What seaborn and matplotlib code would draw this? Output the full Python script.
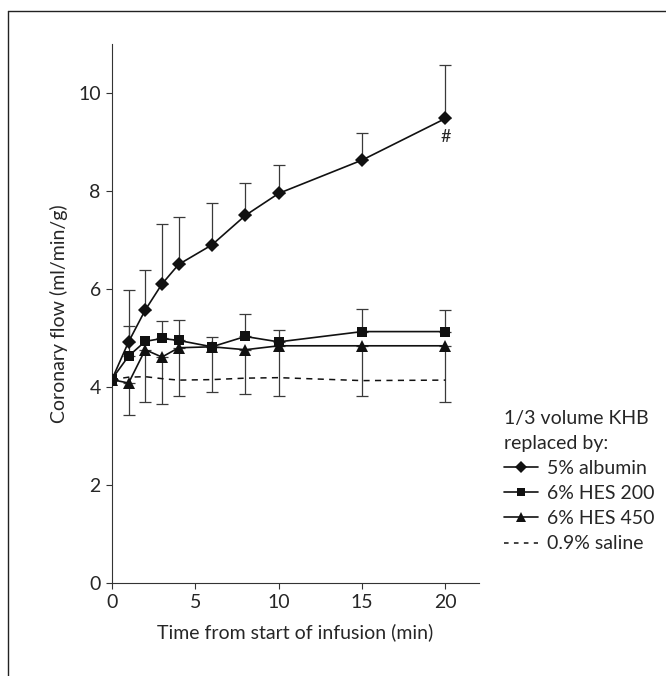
import numpy as np
import pandas as pd
import matplotlib
matplotlib.use("Agg")
import matplotlib.pyplot as plt
import seaborn as sb
from matplotlib.lines import Line2D

sb.set_style("ticks")
plt.rcParams['font.family'] = ['Lato', 'DejaVu Sans']

# values
time = [0, 1, 2, 3, 4, 6, 8, 10, 15, 20]
albumin = [4.15, 4.92, 5.57, 6.10, 6.50, 6.90, 7.50, 7.95, 8.63, 9.48]
albumin_up = [np.nan, 5.97, 6.38, 7.33, 7.46, 7.76, 8.16, 8.52, 9.19, 10.58]
hes200 = [4.16, 4.63, 4.93, 4.99, 4.95, 4.82, 5.03, 4.92, 5.13, 5.13]
hes200_up = [np.nan, 5.25, np.nan, 5.34, 5.37, 5.01, 5.48, 5.17, 5.60, 5.57]
hes450 = [4.15, 4.08, 4.76, 4.61, 4.80, 4.82, 4.76, 4.84, 4.84, 4.84]
hes450_lo = [np.nan, 3.43, 3.69, 3.66, 3.82, 3.89, 3.86, 3.82, 3.82, 3.69]
saline = [4.15, 4.20, 4.21, 4.17, 4.14, 4.15, 4.18, 4.19, 4.13, 4.14]

labels = ['5% albumin', '6% HES 200', '6% HES 450', '0.9% saline']

df = pd.DataFrame({'time': time, labels[0]: albumin, labels[1]: hes200,
                   labels[2]: hes450, labels[3]: saline})

fig = plt.figure(figsize=(6.66, 6.76), dpi=100)
ax = fig.add_axes([0.168, 0.1376, 0.551, 0.7974])

err_col = '#3a3a3a'
fs = 14

def err_bars(y, lim, upper):
    y = np.array(y)
    lim = np.array(lim)
    ok = ~np.isnan(lim)
    t = np.array(time)[ok]
    d = np.abs(lim[ok] - y[ok])
    yerr = [np.zeros_like(d), d] if upper else [d, np.zeros_like(d)]
    ax.errorbar(t, y[ok], yerr=yerr, fmt='none', ecolor=err_col,
                elinewidth=0.9, capsize=4, capthick=0.9, zorder=1)

err_bars(albumin, albumin_up, True)
err_bars(hes200, hes200_up, True)
err_bars(hes450, hes450_lo, False)

sb.lineplot(data=df, x='time', y=labels[0], ax=ax, color='#111111', lw=1.2,
            marker='D', markersize=7, markeredgewidth=0, label=labels[0], zorder=3)
sb.lineplot(data=df, x='time', y=labels[2], ax=ax, color='#111111', lw=1.2,
            marker='^', markersize=8.5, markeredgewidth=0, label=labels[2], zorder=4)
sb.lineplot(data=df, x='time', y=labels[3], ax=ax, color='#111111', lw=1.1,
            dashes=(4, 3.5), label=labels[3], zorder=2)
sb.lineplot(data=df, x='time', y=labels[1], ax=ax, color='#111111', lw=1.2,
            marker='s', markersize=7.5, markeredgewidth=0, label=labels[1], zorder=5)

ax.text(20, 9.1, '#', ha='center', va='center', fontsize=fs - 1)

ax.set_xlim(0, 22)
ax.set_ylim(0, 11)
ax.set_xticks([0, 5, 10, 15, 20])
ax.set_yticks([0, 2, 4, 6, 8, 10])
ax.tick_params(labelsize=fs, length=4, width=0.8, color='#333333', pad=4)
ax.set_xlabel('Time from start of infusion (min)', fontsize=fs, labelpad=9)
ax.set_ylabel('Coronary flow (ml/min/g)', fontsize=fs, labelpad=7)
for s in ['left', 'bottom']:
    ax.spines[s].set_linewidth(0.8)
    ax.spines[s].set_color('#333333')
sb.despine(ax=ax)

h, l = ax.get_legend_handles_labels()
order = [l.index(x) for x in labels]
small = []
for i in order:
    hd = h[i]
    small.append(Line2D([], [], color=hd.get_color(), lw=hd.get_linewidth(),
                        linestyle=hd.get_linestyle(), marker=hd.get_marker(),
                        markersize=hd.get_markersize() * 0.85,
                        markeredgewidth=0))
small[3].set_dashes((3, 3.5))
leg = ax.legend(small, labels,
                title='1/3 volume KHB\nreplaced by:', fontsize=fs,
                title_fontsize=fs, alignment='left', frameon=False,
                loc='upper left', bbox_to_anchor=(0.745, 0.405),
                bbox_transform=fig.transFigure, handlelength=1.75,
                handletextpad=0.45, labelspacing=0.42, borderaxespad=0)
leg.get_title().set_linespacing(1.55)

# outer frame of the figure panel
fig.add_artist(Line2D([0.012, 0.012], [0, 0.984], transform=fig.transFigure,
                      color='#222222', lw=1.0))
fig.add_artist(Line2D([0.012, 1.0], [0.984, 0.984], transform=fig.transFigure,
                      color='#222222', lw=1.0))

fig.savefig('out.png', dpi=100)
